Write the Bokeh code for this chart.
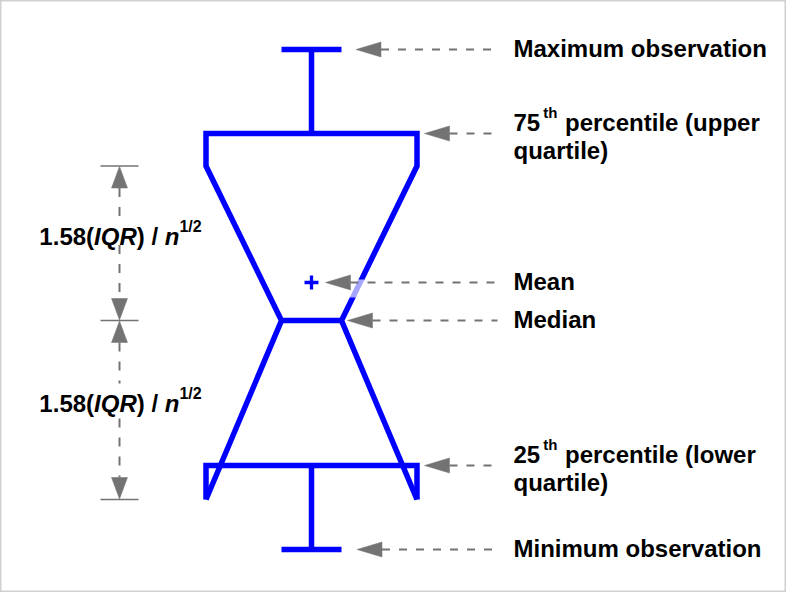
from bokeh.plotting import figure
from bokeh.models import Range1d
from bokeh.core.properties import value
from bokeh.embed import file_html
from bokeh.resources import INLINE

# ---------------- data (schematic value units) ----------------
stat_names = ["maximum", "q3", "notch_hi", "mean", "median", "q1", "notch_lo", "minimum"]
stat_values = [54.3, 45.9, 42.65, 31.0, 27.2, 12.7, 9.3, 4.3]
box_center = 31.1
box_half_width = 10.55
notch_half_width = 3.0
cap_half_width = 3.0

label_max = "Maximum observation"
label_mean = "Mean"
label_median = "Median"
label_min = "Minimum observation"
label_q3 = ["75", "th", "percentile (upper", "quartile)"]
label_q1 = ["25", "th", "percentile (lower", "quartile)"]
notch_label = ["1.58(", "IQR", ") / ", "n", "1/2"]

S = dict(zip(stat_names, stat_values))
cx = box_center
L, R = cx - box_half_width, cx + box_half_width

BLUE = "#0000ff"
GRAY = "#737373"
FONT = value("Liberation Sans")
PX = 0.1  # data units per pixel
TDY = 0.95  # text baseline correction (data units)

# Arial / Liberation Sans Bold advance widths (per 1000 em)
W = {'1': 556, '.': 278, '5': 556, '8': 556, '(': 333, ')': 333, 'I': 278, 'Q': 778,
     'R': 722, ' ': 278, '/': 278, 'n': 611, '2': 556, '7': 556, 't': 333, 'h': 611}


def tw(s, size):
    return sum(W[c] for c in s) * size / 1000.0 * PX


p = figure(width=786, height=592, x_range=Range1d(0, 78.6), y_range=Range1d(0, 59.2),
           output_backend="svg", toolbar_location=None, x_axis_type=None, y_axis_type=None,
           min_border=0, min_border_left=0, min_border_right=0, min_border_top=0,
           min_border_bottom=0)
p.grid.visible = False
p.outline_line_color = "#d0d0d0"
p.outline_line_width = 2
p.background_fill_color = "white"
p.border_fill_color = "white"

# ---------------- notched box ----------------
upper_x = [L, cx - notch_half_width, L, L, R, R, cx + notch_half_width, R]
upper_y = [S["notch_lo"], S["median"], S["notch_hi"], S["q3"], S["q3"], S["notch_hi"],
           S["median"], S["notch_lo"]]
p.line(upper_x, upper_y, line_color=BLUE, line_width=5.5, line_join="miter", line_cap="butt")
p.line([L, L, R, R], [S["notch_lo"], S["q1"], S["q1"], S["notch_lo"]],
       line_color=BLUE, line_width=5.5, line_join="miter", line_cap="butt")
p.line([cx - notch_half_width, cx + notch_half_width], [S["median"], S["median"]],
       line_color=BLUE, line_width=5.5, line_cap="butt")
# whiskers
p.multi_line(xs=[[cx, cx], [cx - cap_half_width, cx + cap_half_width],
                 [cx, cx], [cx - cap_half_width, cx + cap_half_width]],
             ys=[[S["q3"], S["maximum"]], [S["maximum"], S["maximum"]],
                 [S["q1"], S["minimum"]], [S["minimum"], S["minimum"]]],
             line_color=BLUE, line_width=5.5, line_cap="butt")
# mean marker
p.scatter([cx], [S["mean"]], marker="cross", size=14, line_width=3.3, line_color=BLUE)
# faint highlight on the right notch edge near the mean pointer
p.quad(left=[cx + 3.8], right=[cx + 5.3], top=[S["mean"] + 0.3], bottom=[S["mean"] - 1.5],
       fill_color="white", fill_alpha=0.65, line_color=None)

# ---------------- right pointers ----------------
HEAD_L, HEAD_H = 2.5, 0.75
DASH_END = 49.7
tips = {
    "maximum": cx + cap_half_width + 1.45,
    "q3": R + 0.75,
    "mean": cx + 1.4,
    "median": cx + notch_half_width + 0.6,
    "q1": R + 0.75,
    "minimum": cx + cap_half_width + 1.55,
}
hx, hy, dx, dy = [], [], [], []
for k, tx in tips.items():
    y = S[k]
    hx.append([tx, tx + HEAD_L, tx + HEAD_L])
    hy.append([y, y + HEAD_H, y - HEAD_H])
    dx.append([tx + HEAD_L, DASH_END])
    dy.append([y, y])
p.multi_line(dx, dy, line_color=GRAY, line_width=2, line_dash="8 9")
p.patches(hx, hy, fill_color=GRAY, line_color=GRAY, line_width=0.5)

# ---------------- right labels ----------------
TX = 51.3
single = [(label_max, "maximum"), (label_mean, "mean"), (label_median, "median"), (label_min, "minimum")]
p.text(x=[TX] * 4, y=[S[k] - 0.86 + TDY for _, k in single], text=[t for t, _ in single],
       text_font=FONT, text_font_style="bold", text_font_size="24px",
       text_baseline="alphabetic", text_align="left", text_color="black")

for lab, k in [(label_q3, "q3"), (label_q1, "q1")]:
    b1 = S[k] + 0.2 + TDY - 0.05
    b2 = S[k] - 2.56 + TDY - 0.1
    x_sup = TX + tw(lab[0], 24) + 0.3
    x_rest = x_sup + tw(lab[1], 15) + tw(" ", 24) + 0.1
    p.text(x=[TX, x_rest, TX], y=[b1, b1, b2], text=[lab[0], lab[2], lab[3]],
           text_font=FONT, text_font_style="bold", text_font_size="24px",
           text_baseline="alphabetic", text_align="left", text_color="black")
    p.text(x=[x_sup], y=[b1 + 1.0], text=[lab[1]],
           text_font=FONT, text_font_style="bold", text_font_size="15px",
           text_baseline="alphabetic", text_align="left", text_color="black")

# ---------------- left notch-width annotation ----------------
AX = 11.9
AH_L, AH_W = 2.2, 0.8
TICK_HALF = 1.9
ticks = [S["notch_hi"], S["median"], S["notch_lo"]]
p.multi_line(xs=[[AX - TICK_HALF, AX + TICK_HALF]] * 3, ys=[[t, t] for t in ticks],
             line_color=GRAY, line_width=1.5)
segs = [(S["notch_hi"], S["median"]), (S["median"], S["notch_lo"])]
vx, vy, ax_, ay_ = [], [], [], []
for top, bot in segs:
    vx.append([AX, AX])
    vy.append([top - AH_L, bot + AH_L])
    ax_ += [[AX, AX - AH_W, AX + AH_W], [AX, AX - AH_W, AX + AH_W]]
    ay_ += [[top - 0.05, top - AH_L, top - AH_L], [bot + 0.05, bot + AH_L, bot + AH_L]]
p.multi_line(vx, vy, line_color=GRAY, line_width=2, line_dash="9 10")
p.patches(ax_, ay_, fill_color=GRAY, line_color=GRAY, line_width=0.5)

sizes = [24, 24, 24, 24, 16]
styles = ["bold", "bold italic", "bold", "bold italic", "bold"]
total = sum(tw(s, z) for s, z in zip(notch_label, sizes))
for top, bot in segs:
    base = (top + bot) / 2 - 0.3 + TDY
    x0 = AX + 0.1 - total / 2
    p.quad(left=[AX - 1.5], right=[AX + 1.5], top=[base + 2.0], bottom=[base - 0.7],
           fill_color="white", line_color=None)
    xx = x0
    for s, z, st in zip(notch_label, sizes, styles):
        yy = base + (1.0 if z == 16 else 0.0)
        p.text(x=[xx], y=[yy], text=[s], text_font=FONT, text_font_style=st,
               text_font_size=f"{z}px", text_baseline="alphabetic", text_align="left",
               text_color="black")
        xx += tw(s, z)

open("out.html", "w").write(file_html(p, INLINE))
